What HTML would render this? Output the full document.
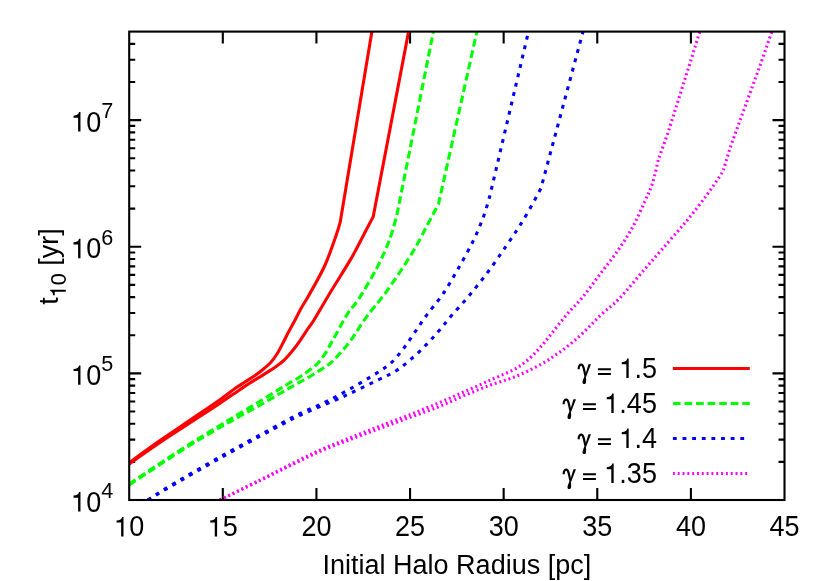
<!DOCTYPE html>
<html><head><meta charset="utf-8"><title>plot</title>
<style>
html,body{margin:0;padding:0;background:#fff;}
svg{display:block;will-change:transform;}
text{font-family:"Liberation Sans",sans-serif;fill:#000;}
</style></head><body>
<svg width="830" height="581" viewBox="0 0 830 581">
<rect x="0" y="0" width="830" height="581" fill="#fff"/>
<defs><clipPath id="cp"><rect x="129.20" y="31.60" width="655.30" height="468.40"/></clipPath></defs>
<path d="M129.20,461.88 h6.00 M784.50,461.88 h-6.00 M129.20,439.58 h6.00 M784.50,439.58 h-6.00 M129.20,423.76 h6.00 M784.50,423.76 h-6.00 M129.20,411.49 h6.00 M784.50,411.49 h-6.00 M129.20,401.46 h6.00 M784.50,401.46 h-6.00 M129.20,392.99 h6.00 M784.50,392.99 h-6.00 M129.20,385.64 h6.00 M784.50,385.64 h-6.00 M129.20,379.16 h6.00 M784.50,379.16 h-6.00 M129.20,373.37 h12.00 M784.50,373.37 h-12.00 M129.20,335.25 h6.00 M784.50,335.25 h-6.00 M129.20,312.95 h6.00 M784.50,312.95 h-6.00 M129.20,297.13 h6.00 M784.50,297.13 h-6.00 M129.20,284.86 h6.00 M784.50,284.86 h-6.00 M129.20,274.83 h6.00 M784.50,274.83 h-6.00 M129.20,266.36 h6.00 M784.50,266.36 h-6.00 M129.20,259.01 h6.00 M784.50,259.01 h-6.00 M129.20,252.53 h6.00 M784.50,252.53 h-6.00 M129.20,246.74 h12.00 M784.50,246.74 h-12.00 M129.20,208.62 h6.00 M784.50,208.62 h-6.00 M129.20,186.32 h6.00 M784.50,186.32 h-6.00 M129.20,170.50 h6.00 M784.50,170.50 h-6.00 M129.20,158.23 h6.00 M784.50,158.23 h-6.00 M129.20,148.20 h6.00 M784.50,148.20 h-6.00 M129.20,139.73 h6.00 M784.50,139.73 h-6.00 M129.20,132.38 h6.00 M784.50,132.38 h-6.00 M129.20,125.90 h6.00 M784.50,125.90 h-6.00 M129.20,120.11 h12.00 M784.50,120.11 h-12.00 M129.20,81.99 h6.00 M784.50,81.99 h-6.00 M129.20,59.69 h6.00 M784.50,59.69 h-6.00 M129.20,43.87 h6.00 M784.50,43.87 h-6.00 M222.81,500.00 v-12.00 M222.81,31.60 v12.00 M316.43,500.00 v-12.00 M316.43,31.60 v12.00 M410.04,500.00 v-12.00 M410.04,31.60 v12.00 M503.66,500.00 v-12.00 M503.66,31.60 v12.00 M597.27,500.00 v-12.00 M597.27,31.60 v12.00 M690.89,500.00 v-12.00 M690.89,31.60 v12.00" stroke="#000" stroke-width="2.10" fill="none" stroke-linecap="butt"/>
<g clip-path="url(#cp)" fill="none" stroke-width="3.10" stroke-linejoin="round">
<path d="M129.2,462.7 C134.3,459.0 148.2,448.8 160.0,440.6 C171.8,432.4 190.1,420.0 200.0,413.3 C209.9,406.6 213.5,404.4 219.3,400.3 C225.1,396.2 230.8,391.5 235.0,388.5 C239.2,385.5 241.4,384.3 244.6,382.2 C247.8,380.1 251.1,378.2 254.3,376.0 C257.5,373.8 261.2,370.9 263.9,368.7 C266.6,366.4 268.5,364.9 270.7,362.5 C272.9,360.1 275.0,357.1 277.0,354.0 C279.0,350.9 280.7,347.4 282.5,343.9 C284.3,340.4 286.2,336.4 288.0,333.0 C289.8,329.6 291.0,327.6 293.3,323.3 C295.6,319.0 299.1,311.9 301.7,307.3 C304.2,302.7 304.8,302.7 308.6,295.8 C312.4,288.9 320.0,276.0 324.6,266.0 C329.2,256.0 333.4,243.1 336.0,235.7 C338.6,228.3 339.6,224.1 340.3,221.8 L371.9,31.6" stroke="#ff0000"/>
<path d="M129.2,463.9 C134.3,460.3 148.2,450.3 160.0,442.4 C171.8,434.5 190.1,422.8 200.0,416.3 C209.9,409.9 212.7,408.1 219.3,403.7 C225.9,399.3 234.8,393.1 239.8,389.7 C244.8,386.3 246.3,385.2 249.5,383.2 C252.7,381.1 255.9,379.4 259.1,377.4 C262.3,375.4 266.1,373.1 268.7,371.4 C271.3,369.7 272.4,369.2 275.0,367.3 C277.6,365.4 281.1,363.0 284.4,359.8 C287.6,356.6 291.6,351.8 294.5,348.2 C297.4,344.6 299.3,341.6 301.7,338.1 C304.1,334.6 306.9,330.2 309.0,327.2 C311.1,324.2 310.3,326.0 314.0,320.0 C317.7,314.0 324.8,301.6 331.0,291.3 C337.2,281.0 345.7,267.9 351.2,258.4 C356.7,248.9 360.2,241.3 363.9,234.4 C367.6,227.5 371.6,219.6 373.2,216.7 L408.6,31.6" stroke="#ff0000"/>
<path d="M129.2,483.9 C137.7,478.3 165.0,460.0 180.0,450.3 C195.0,440.6 209.5,431.8 219.4,425.7 C229.3,419.6 232.8,417.7 239.4,413.7 C246.1,409.7 252.7,405.8 259.3,401.7 C265.9,397.6 274.4,392.3 279.1,389.4 C283.8,386.5 283.5,386.6 287.3,384.3 C291.1,382.0 296.9,378.9 301.7,375.7 C306.5,372.4 312.3,368.4 316.2,364.8 C320.1,361.2 322.5,357.5 324.9,354.0 C327.3,350.5 328.9,347.0 330.7,343.9 C332.4,340.8 332.5,340.7 335.4,335.5 C338.3,330.3 344.2,318.9 348.1,312.8 C352.0,306.7 354.1,306.3 358.8,298.9 C363.5,291.5 371.4,278.3 376.5,268.6 C381.6,258.9 385.8,249.6 389.2,240.7 C392.6,231.8 395.5,219.6 396.8,215.4 L433.4,31.6" stroke="#00ff00" stroke-dasharray="7.71 3.85"/>
<path d="M129.2,484.9 C137.7,479.3 165.0,461.0 180.0,451.5 C195.0,442.0 209.5,433.5 219.4,427.7 C229.3,421.9 232.8,420.2 239.4,416.5 C246.1,412.8 252.7,409.2 259.3,405.5 C265.9,401.8 273.2,397.4 279.1,394.0 C285.0,390.6 289.5,387.9 294.5,385.1 C299.5,382.3 304.7,379.6 309.0,377.1 C313.3,374.6 317.1,372.1 320.5,369.9 C323.9,367.7 326.7,366.0 329.2,364.1 C331.7,362.2 331.8,362.2 335.4,358.3 C339.0,354.4 345.5,347.4 350.6,340.6 C355.7,333.9 359.8,326.0 365.8,317.8 C371.8,309.6 378.9,302.0 386.6,291.3 C394.3,280.6 405.1,264.4 411.9,253.4 C418.6,242.4 422.7,233.7 427.1,225.5 C431.5,217.3 436.6,207.6 438.5,204.0 L476.9,31.6" stroke="#00ff00" stroke-dasharray="7.71 3.85"/>
<path d="M147.8,500.0 C151.6,497.6 158.4,492.8 170.6,485.5 C182.8,478.2 204.3,465.8 221.2,456.3 C238.1,446.8 258.7,435.6 271.8,428.5 C284.9,421.4 291.1,417.9 300.0,413.5 C308.9,409.1 316.9,406.2 325.3,402.1 C333.7,398.0 342.2,393.4 350.6,388.7 C359.0,383.9 369.1,377.9 375.9,373.6 C382.6,369.3 386.5,367.1 391.1,362.9 C395.7,358.7 399.7,353.4 403.7,348.2 C407.7,343.0 411.3,337.3 415.1,331.8 C418.9,326.3 421.9,321.6 426.5,315.3 C431.1,309.0 437.6,301.9 442.8,294.2 C448.1,286.5 452.9,277.8 458.0,268.9 C463.1,260.0 468.9,249.7 473.1,241.1 C477.3,232.5 480.6,224.5 483.3,217.1 C486.1,209.7 488.6,200.2 489.6,196.8 L528.5,31.6" stroke="#0000ff" stroke-dasharray="3.85 5.78"/>
<path d="M147.8,500.0 C151.6,497.8 158.4,493.6 170.6,486.5 C182.8,479.4 204.3,466.9 221.2,457.5 C238.1,448.1 258.7,436.9 271.8,429.9 C284.9,422.9 289.4,420.3 300.0,415.3 C310.6,410.3 326.5,404.0 335.4,400.1 C344.2,396.2 345.9,395.4 353.1,392.0 C360.3,388.6 371.2,383.4 378.4,379.8 C385.6,376.2 390.7,374.2 396.2,370.7 C401.7,367.2 406.2,363.3 411.3,358.9 C416.4,354.5 421.9,349.1 426.5,344.4 C431.1,339.7 435.0,335.4 439.2,330.5 C443.4,325.6 446.8,321.1 451.8,315.3 C456.8,309.5 463.2,302.8 469.3,295.5 C475.4,288.2 482.2,279.7 488.3,271.5 C494.4,263.3 500.5,254.2 506.0,246.2 C511.5,238.2 516.4,231.2 521.2,223.4 C526.1,215.6 531.8,205.2 535.1,199.3 C538.4,193.4 540.0,189.9 541.0,188.0 L583.0,31.6" stroke="#0000ff" stroke-dasharray="3.85 5.78"/>
<path d="M219.8,500.0 C226.5,496.6 248.4,485.8 260.2,479.9 C272.0,474.0 280.3,469.5 290.4,464.5 C300.4,459.5 310.5,454.4 320.5,449.9 C330.5,445.4 340.6,441.6 350.6,437.6 C360.6,433.6 370.7,429.7 380.7,425.8 C390.7,421.9 400.9,418.2 410.8,414.3 C420.7,410.4 430.9,406.2 440.0,402.4 C449.1,398.6 456.9,395.0 465.3,391.3 C473.7,387.6 482.6,383.6 490.6,380.0 C498.6,376.4 507.5,372.9 513.4,369.8 C519.3,366.7 521.8,364.9 526.0,361.5 C530.2,358.1 534.5,353.7 538.7,349.1 C542.9,344.5 546.7,339.6 551.3,333.9 C555.9,328.2 561.3,321.0 566.5,314.9 C571.7,308.8 576.9,304.1 582.5,297.3 C588.1,290.5 594.3,281.8 600.2,274.0 C606.1,266.2 612.5,258.3 618.0,250.3 C623.5,242.3 628.7,234.3 633.1,226.2 C637.5,218.1 641.3,209.0 644.5,201.9 C647.7,194.8 650.1,190.6 652.4,183.5 C654.7,176.4 657.4,163.3 658.4,159.3 L667.8,133.3 L677.9,101.4 L690.0,63.0 L699.8,31.6" stroke="#ff00ff" stroke-dasharray="1.93 2.89"/>
<path d="M219.8,500.0 C226.5,496.8 248.4,486.2 260.2,480.5 C272.0,474.8 280.3,470.4 290.4,465.5 C300.4,460.6 310.5,455.6 320.5,451.2 C330.5,446.8 340.6,443.2 350.6,439.4 C360.6,435.5 370.7,431.8 380.7,428.1 C390.7,424.4 400.9,420.8 410.8,417.1 C420.7,413.5 430.9,409.9 440.0,406.2 C449.1,402.5 456.9,398.6 465.3,395.1 C473.7,391.6 482.2,388.1 490.6,385.0 C499.0,381.9 507.5,379.9 515.9,376.4 C524.3,372.9 534.5,367.9 541.2,364.2 C548.0,360.5 551.3,357.9 556.4,354.4 C561.5,350.9 566.5,347.3 571.6,343.1 C576.7,338.9 581.8,334.1 586.8,329.2 C591.8,324.3 596.5,319.0 601.9,313.9 C607.3,308.8 611.9,306.3 619.2,298.6 C626.5,290.9 637.6,277.4 645.8,267.9 C654.0,258.4 661.4,250.1 668.6,241.8 C675.8,233.5 682.5,226.0 688.8,218.3 C695.1,210.6 701.4,202.2 706.5,195.4 C711.6,188.6 716.3,181.6 719.2,177.2 C722.1,172.8 723.0,170.4 723.7,169.0 L730.6,146.5 L737.8,126.5 L749.4,94.7 L761.0,62.9 L771.9,31.6" stroke="#ff00ff" stroke-dasharray="1.93 2.89"/>
</g>
<rect x="129.20" y="31.60" width="655.30" height="468.40" fill="none" stroke="#000" stroke-width="2.10"/>
<g transform="translate(129.20,536.40)"><text transform="scale(1,1.0600)"><tspan x="0.00" y="0.00" font-size="27.00">0</tspan></text><path d="M345,0 L345,-722 L291,-722 C276,-640 223,-595 88,-589 L88,-512 L258,-512 L258,0 Z" transform="translate(-15.02,0.00) scale(0.02700)"/></g>
<g transform="translate(222.81,536.40)"><text transform="scale(1,1.0600)"><tspan x="0.00" y="0.00" font-size="27.00">5</tspan></text><path d="M345,0 L345,-722 L291,-722 C276,-640 223,-595 88,-589 L88,-512 L258,-512 L258,0 Z" transform="translate(-15.02,0.00) scale(0.02700)"/></g>
<g transform="translate(316.43,536.40)"><text transform="scale(1,1.0600)"><tspan x="-15.02" y="0.00" font-size="27.00">20</tspan></text></g>
<g transform="translate(410.04,536.40)"><text transform="scale(1,1.0600)"><tspan x="-15.02" y="0.00" font-size="27.00">25</tspan></text></g>
<g transform="translate(503.66,536.40)"><text transform="scale(1,1.0600)"><tspan x="-15.02" y="0.00" font-size="27.00">30</tspan></text></g>
<g transform="translate(597.27,536.40)"><text transform="scale(1,1.0600)"><tspan x="-15.02" y="0.00" font-size="27.00">35</tspan></text></g>
<g transform="translate(690.89,536.40)"><text transform="scale(1,1.0600)"><tspan x="-15.02" y="0.00" font-size="27.00">40</tspan></text></g>
<g transform="translate(784.50,536.40)"><text transform="scale(1,1.0600)"><tspan x="-15.02" y="0.00" font-size="27.00">45</tspan></text></g>
<g transform="translate(113.20,511.50)"><text transform="scale(1,1.0600)"><tspan x="-27.03" y="0.00" font-size="27.00">0</tspan><tspan x="-12.01" y="-12.92" font-size="21.60">4</tspan></text><path d="M345,0 L345,-722 L291,-722 C276,-640 223,-595 88,-589 L88,-512 L258,-512 L258,0 Z" transform="translate(-42.05,0.00) scale(0.02700)"/></g>
<g transform="translate(113.20,384.87)"><text transform="scale(1,1.0600)"><tspan x="-27.03" y="0.00" font-size="27.00">0</tspan><tspan x="-12.01" y="-12.92" font-size="21.60">5</tspan></text><path d="M345,0 L345,-722 L291,-722 C276,-640 223,-595 88,-589 L88,-512 L258,-512 L258,0 Z" transform="translate(-42.05,0.00) scale(0.02700)"/></g>
<g transform="translate(113.20,258.24)"><text transform="scale(1,1.0600)"><tspan x="-27.03" y="0.00" font-size="27.00">0</tspan><tspan x="-12.01" y="-12.92" font-size="21.60">6</tspan></text><path d="M345,0 L345,-722 L291,-722 C276,-640 223,-595 88,-589 L88,-512 L258,-512 L258,0 Z" transform="translate(-42.05,0.00) scale(0.02700)"/></g>
<g transform="translate(113.20,131.61)"><text transform="scale(1,1.0600)"><tspan x="-27.03" y="0.00" font-size="27.00">0</tspan><tspan x="-12.01" y="-12.92" font-size="21.60">7</tspan></text><path d="M345,0 L345,-722 L291,-722 C276,-640 223,-595 88,-589 L88,-512 L258,-512 L258,0 Z" transform="translate(-42.05,0.00) scale(0.02700)"/></g>
<g transform="translate(456.85,574.00)"><text transform="scale(1,1.0000)"><tspan x="-134.31" y="0.00" font-size="27.00">Initial Halo Radius [pc]</tspan></text></g>
<g transform="translate(57.90,266.50) rotate(-90)"><text transform="scale(1,1.0000)"><tspan x="-38.26" y="0.00" font-size="27.00">t</tspan><tspan x="-18.75" y="7.90" font-size="21.60">0</tspan><tspan x="-6.73" y="0.00" font-size="27.00"> [yr]</tspan></text><path d="M345,0 L345,-722 L291,-722 C276,-640 223,-595 88,-589 L88,-512 L258,-512 L258,0 Z" transform="translate(-30.76,7.90) scale(0.02160)"/></g>
<path d="M672.9,368.50 H749.8" stroke="#ff0000" stroke-width="3.10" fill="none"/>
<g transform="translate(656.90,378.10)"><text transform="scale(1,1.0600)"><tspan x="-22.52" y="0.00" font-size="27.00">.5</tspan></text><path d="M345,0 L345,-722 L291,-722 C276,-640 223,-595 88,-589 L88,-512 L258,-512 L258,0 Z" transform="translate(-37.53,0.00) scale(0.02700)"/></g>
<path d="M598.00,369.20 h12.9 M598.00,373.95 h12.9" stroke="#000" stroke-width="1.95" fill="none"/>
<g transform="translate(578.10,377.60)" fill="none" stroke="#000" stroke-linecap="butt"><path d="M0.5,-8.4 C0.7,-11.8 1.9,-12.9 3.3,-12.9 C5.1,-12.9 5.9,-9.0 7.2,-2.0" stroke-width="2.2"/><path d="M10.4,-13.4 L12.9,-13.4 L8.0,-0.8 L6.7,-1.4 Z" fill="#000" stroke="none"/><path d="M7.2,-3.6 C6.0,0.0 4.2,3.0 4.4,4.9 C4.6,7.0 7.5,7.1 7.9,4.9 C8.3,2.8 8.0,0 7.2,-3.6 Z" fill="#000" stroke="none"/></g>
<path d="M672.9,403.50 H749.8" stroke="#00ff00" stroke-width="3.10" fill="none" stroke-dasharray="7.71 3.85"/>
<g transform="translate(656.90,413.10)"><text transform="scale(1,1.0600)"><tspan x="-37.53" y="0.00" font-size="27.00">.45</tspan></text><path d="M345,0 L345,-722 L291,-722 C276,-640 223,-595 88,-589 L88,-512 L258,-512 L258,0 Z" transform="translate(-52.55,0.00) scale(0.02700)"/></g>
<path d="M583.00,404.20 h12.9 M583.00,408.95 h12.9" stroke="#000" stroke-width="1.95" fill="none"/>
<g transform="translate(563.10,412.60)" fill="none" stroke="#000" stroke-linecap="butt"><path d="M0.5,-8.4 C0.7,-11.8 1.9,-12.9 3.3,-12.9 C5.1,-12.9 5.9,-9.0 7.2,-2.0" stroke-width="2.2"/><path d="M10.4,-13.4 L12.9,-13.4 L8.0,-0.8 L6.7,-1.4 Z" fill="#000" stroke="none"/><path d="M7.2,-3.6 C6.0,0.0 4.2,3.0 4.4,4.9 C4.6,7.0 7.5,7.1 7.9,4.9 C8.3,2.8 8.0,0 7.2,-3.6 Z" fill="#000" stroke="none"/></g>
<path d="M672.9,438.50 H749.8" stroke="#0000ff" stroke-width="3.10" fill="none" stroke-dasharray="3.85 5.78"/>
<g transform="translate(656.90,448.10)"><text transform="scale(1,1.0600)"><tspan x="-22.52" y="0.00" font-size="27.00">.4</tspan></text><path d="M345,0 L345,-722 L291,-722 C276,-640 223,-595 88,-589 L88,-512 L258,-512 L258,0 Z" transform="translate(-37.53,0.00) scale(0.02700)"/></g>
<path d="M598.00,439.20 h12.9 M598.00,443.95 h12.9" stroke="#000" stroke-width="1.95" fill="none"/>
<g transform="translate(578.10,447.60)" fill="none" stroke="#000" stroke-linecap="butt"><path d="M0.5,-8.4 C0.7,-11.8 1.9,-12.9 3.3,-12.9 C5.1,-12.9 5.9,-9.0 7.2,-2.0" stroke-width="2.2"/><path d="M10.4,-13.4 L12.9,-13.4 L8.0,-0.8 L6.7,-1.4 Z" fill="#000" stroke="none"/><path d="M7.2,-3.6 C6.0,0.0 4.2,3.0 4.4,4.9 C4.6,7.0 7.5,7.1 7.9,4.9 C8.3,2.8 8.0,0 7.2,-3.6 Z" fill="#000" stroke="none"/></g>
<path d="M672.9,473.50 H749.8" stroke="#ff00ff" stroke-width="3.10" fill="none" stroke-dasharray="1.93 2.89"/>
<g transform="translate(656.90,483.10)"><text transform="scale(1,1.0600)"><tspan x="-37.53" y="0.00" font-size="27.00">.35</tspan></text><path d="M345,0 L345,-722 L291,-722 C276,-640 223,-595 88,-589 L88,-512 L258,-512 L258,0 Z" transform="translate(-52.55,0.00) scale(0.02700)"/></g>
<path d="M583.00,474.20 h12.9 M583.00,478.95 h12.9" stroke="#000" stroke-width="1.95" fill="none"/>
<g transform="translate(563.10,482.60)" fill="none" stroke="#000" stroke-linecap="butt"><path d="M0.5,-8.4 C0.7,-11.8 1.9,-12.9 3.3,-12.9 C5.1,-12.9 5.9,-9.0 7.2,-2.0" stroke-width="2.2"/><path d="M10.4,-13.4 L12.9,-13.4 L8.0,-0.8 L6.7,-1.4 Z" fill="#000" stroke="none"/><path d="M7.2,-3.6 C6.0,0.0 4.2,3.0 4.4,4.9 C4.6,7.0 7.5,7.1 7.9,4.9 C8.3,2.8 8.0,0 7.2,-3.6 Z" fill="#000" stroke="none"/></g>
</svg></body></html>
